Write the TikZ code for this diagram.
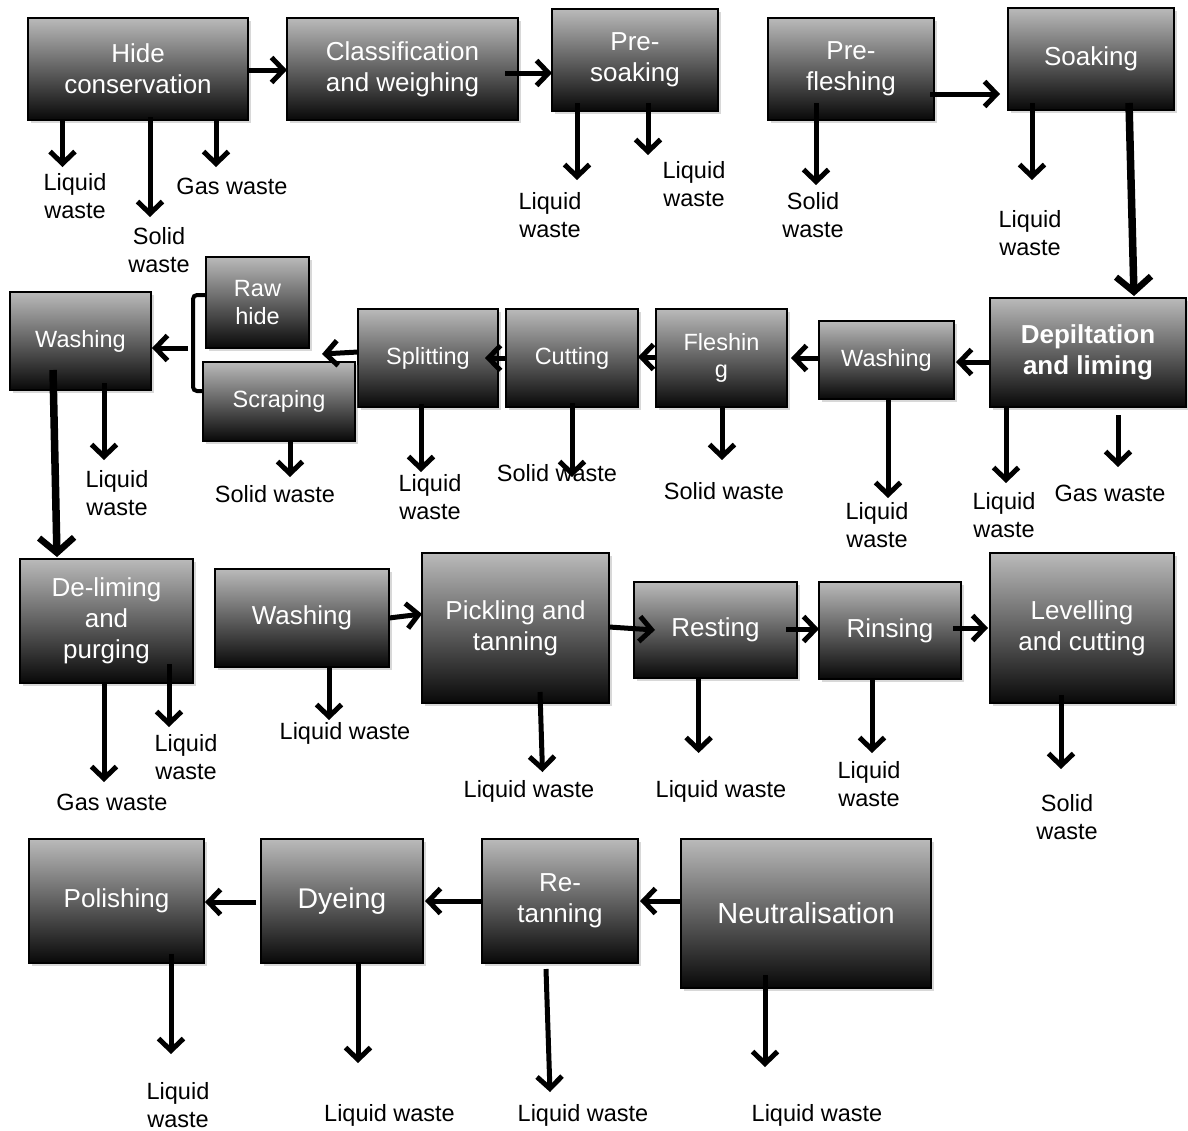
\documentclass[tikz,border=0pt]{standalone}
\usepackage{fontspec}
\setmainfont{Liberation Sans}
\usetikzlibrary{arrows.meta,shadows,calc}
\definecolor{boxtop}{RGB}{186,186,186}
\definecolor{boxbot}{RGB}{8,8,8}
\tikzset{
  box/.style={rectangle, draw=black, line width=1.3pt, top color=boxtop, bottom color=boxbot,
    drop shadow={opacity=0.3, shadow xshift=2.5pt, shadow yshift=-3pt},
    inner sep=0pt, outer sep=0pt, text=white, align=center},
  lab/.style={align=center, inner sep=0pt, font=\fontsize{23.5}{27.5}\selectfont},
  arr/.style={line width=5pt, -{Straight Barb[length=12pt,width=25pt,line width=5pt]}},
  bigarr/.style={line width=7.5pt, -{Straight Barb[length=15pt,width=35pt,line width=6.5pt]}},
  brk/.style={line width=4pt, rounded corners=4pt},
  fbase/.style={font=\fontsize{26}{31}\selectfont},
  fsmall/.style={font=\fontsize{23.5}{27.5}\selectfont},
  fbold/.style={font=\bfseries\fontsize{26}{31.5}\selectfont},
  fdye/.style={font=\fontsize{28.5}{33}\selectfont},
  fneu/.style={font=\fontsize{29}{34}\selectfont},
}
% #1 name, #2 x1, #3 y1, #4 x2, #5 y2, #6 font style, #7 text
\newcommand\proc[7]{%
  \node[box, #6, minimum width={(#4-#2)*1pt}, minimum height={(#5-#3)*1pt}]
    (#1) at ({(#2+#4)/2},{(#3+#5)/2}) {#7};}
% #1 node, #2 x0, #3 dy from bottom, #4 x1, #5 y1, #6 label name, #7 label pos, #8 text
\newcommand\wst[8]{%
  \node[lab] (#6) at (#7) {#8};
  \coordinate (#6-e) at (#4,#5);
  \draw[arr] ($(#1.south -| #2,0)+(0,#3)$) -- (#6-e);}
\begin{document}
\begin{tikzpicture}[x=1pt,y=-1pt]
\useasboundingbox (0,0) rectangle (1188,1130);
\fill[white] (0,0) rectangle (1188,1130);

% Row 1
\proc{hide}{28}{18}{248}{120}{fbase}{Hide\\conservation}
\proc{class}{287}{18}{518}{120}{fbase}{Classification\\and weighing}
\proc{presoak}{552}{9}{718}{111}{fbase}{Pre-\\soaking}
\proc{preflesh}{768}{18}{934}{120}{fbase}{Pre-\\fleshing}
\proc{soak}{1008}{8}{1174}{110}{fbase}{Soaking}
% Row 2
\proc{depil}{990}{298}{1186}{407}{fbold}{Depiltation\\and liming}
\proc{washR}{819}{321}{954}{399}{fsmall}{Washing}
\proc{flesh}{656}{309}{787}{407}{fsmall}{Fleshin\\g}
\proc{cut}{506}{309}{638}{407}{fsmall}{Cutting}
\proc{split}{358}{309}{498}{407}{fsmall}{Splitting}
\proc{raw}{206}{257}{309}{348}{fsmall}{Raw\\hide}
\proc{scrape}{203}{362}{355}{441}{fsmall}{Scraping}
\proc{washL}{10}{292}{151}{390}{fsmall}{Washing}
% Row 3
\proc{delime}{20}{559}{193}{683}{fbase}{De-liming\\and\\purging}
\proc{wash3}{215}{569}{389}{667}{fbase}{Washing}
\proc{pickle}{422}{553}{609}{703}{fbase}{Pickling and\\tanning}
\proc{rest}{634}{582}{797}{678}{fbase}{Resting}
\proc{rinse}{819}{582}{961}{679}{fbase}{Rinsing}
\proc{level}{990}{553}{1174}{703}{fbase}{Levelling\\and cutting}
% Row 4
\proc{polish}{29}{839}{204}{963}{fbase}{Polishing}
\proc{dye}{261}{839}{423}{963}{fdye}{Dyeing}
\proc{retan}{482}{839}{638}{963}{fbase}{Re-\\tanning}
\proc{neutral}{681}{839}{931}{988}{fneu}{Neutralisation}

% Horizontal flow arrows
\draw[arr] (hide.east |- 0,70) -- (class.west |- 0,70);
\draw[arr] ($(class.east |- 0,73)+(-13,0)$) -- (presoak.west |- 0,73);
\draw[arr] ($(preflesh.east |- 0,94)+(-4,0)$) -- ($(soak.west |- 0,94)+(-8,0)$);
\draw[arr] (depil.west |- 0,362) -- ($(washR.east |- 0,362)+(2,0)$);
\draw[arr] (washR.west |- 0,358) -- ($(flesh.east |- 0,358)+(4,0)$);
\draw[arr] (flesh.west |- 0,357) -- (cut.east |- 0,357);
\draw[arr] (cut.west |- 0,358) -- ($(split.east |- 0,358)+(-13,0)$);
\coordinate (splitend) at (322,354);
\draw[arr] (split.west |- 0,352) -- (splitend);
\draw[brk] (raw.west |- 0,295) -- (193,295) -- (193,391) -- (scrape.west |- 0,391);
\coordinate (brkmid) at (188,348);
\draw[arr] (brkmid) -- ($(washL.east |- 0,348)+(1,0)$);
\draw[arr] (wash3.east |- 0,618) -- (pickle.west |- 0,614);
\draw[arr] (pickle.east |- 0,627) -- ($(rest.west |- 0,630)+(21,0)$);
\draw[arr] ($(rest.east |- 0,629)+(-11,0)$) -- (rinse.west |- 0,629);
\draw[arr] ($(rinse.east |- 0,628)+(-8,0)$) -- ($(level.west |- 0,628)+(-2,0)$);
\draw[arr] (neutral.west |- 0,901) -- ($(retan.east |- 0,901)+(2,0)$);
\draw[arr] (retan.west |- 0,901) -- ($(dye.east |- 0,901)+(2,0)$);
\draw[arr] ($(dye.west |- 0,902)+(-5,0)$) -- ($(polish.east |- 0,902)+(1,0)$);

% Thick connecting arrows
\draw[bigarr] ($(soak.south -| 1129,0)+(0,-7)$) -- ($(depil.north -| 1134,0)+(0,-2)$);
\draw[bigarr] ($(washL.south -| 53,0)+(0,-20)$) -- ($(delime.north -| 57,0)+(0,-2)$);

% Waste outputs
\wst{hide}{62.5}{0}{62.5}{167}{w1}{75,196}{Liquid\\waste}
\wst{hide}{150}{-3}{150}{217}{w2}{159,250}{Solid\\waste}
\wst{hide}{216}{0}{216}{167}{w3}{232,186}{Gas waste}
\wst{presoak}{577}{-8}{577}{180}{w4}{550,215}{Liquid\\waste}
\wst{presoak}{648}{-8}{648}{155}{w5}{694,184}{Liquid\\waste}
\wst{preflesh}{816}{-17}{816}{185}{w6}{813,215}{Solid\\waste}
\wst{soak}{1032}{-7}{1032}{180}{w7}{1030,233}{Liquid\\waste}
\wst{washL}{104}{-7}{104}{460}{w8}{117,493}{Liquid\\waste}
\wst{scrape}{290}{0}{290}{477}{w9}{275,494}{Solid waste}
\wst{split}{421}{-3}{421}{472}{w10}{430,497}{Liquid\\waste}
\wst{cut}{572}{-4}{572}{477}{w11}{557,473}{Solid waste}
\wst{flesh}{722}{0}{722}{460}{w12}{724,491}{Solid waste}
\wst{washR}{888}{0}{888}{498}{w13}{877,525}{Liquid\\waste}
\wst{depil}{1006}{0}{1006}{483}{w14}{1004,515}{Liquid\\waste}
\wst{depil}{1118}{8}{1118}{467}{w15}{1110,493}{Gas waste}
\wst{delime}{104}{0}{104}{782}{w16}{112,802}{Gas waste}
\wst{delime}{169}{-19}{169}{727}{w17}{186,757}{Liquid\\waste}
\wst{wash3}{329}{0}{329}{720}{w18}{345,733}{Liquid waste}
\wst{pickle}{540}{-11}{542.5}{772}{w19}{529,791}{Liquid waste}
\wst{rest}{698.6}{0}{698.6}{753}{w20}{721,791}{Liquid waste}
\wst{rinse}{872}{0}{872}{753}{w21}{869,784}{Liquid\\waste}
\wst{level}{1061}{-8}{1061}{769}{w22}{1067,817}{Solid\\waste}
\wst{polish}{171}{-9}{171}{1054}{w23}{178,1105}{Liquid\\waste}
\wst{dye}{358}{0}{358}{1063}{w24}{389.5,1115}{Liquid waste}
\wst{retan}{546}{6}{550}{1092}{w25}{583,1115}{Liquid waste}
\wst{neutral}{765}{-13}{765}{1067}{w26}{817,1115}{Liquid waste}
\end{tikzpicture}
\end{document}
